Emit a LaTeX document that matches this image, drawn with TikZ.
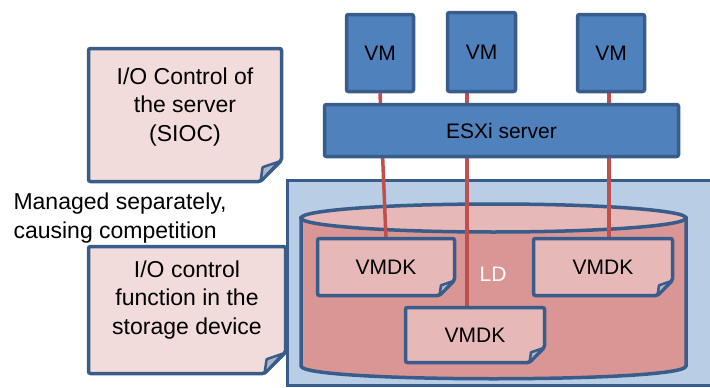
\documentclass[tikz,border=0pt]{standalone}
\usepackage{fontspec}
\setmainfont{Liberation Sans}
\usepackage{xcolor}
\usetikzlibrary{calc}
\definecolor{edgeblue}  {RGB}{56,93,138}
\definecolor{vmblue}    {RGB}{79,129,189}
\definecolor{notepink}  {RGB}{242,220,219}
\definecolor{storeblue} {RGB}{185,205,229}
\definecolor{ldbody}    {RGB}{217,150,149}
\definecolor{ldtop}     {RGB}{230,185,184}
\definecolor{diskpink}  {RGB}{230,184,183}
\definecolor{linkred}   {RGB}{192,80,77}
\definecolor{foldgray}  {RGB}{172,180,198}
\pgfdeclarelayer{back}
\pgfdeclarelayer{wires}
\pgfdeclarelayer{paper}
\pgfsetlayers{back,wires,paper,main}
\tikzset{
  bigtext/.style={font=\fontsize{23}{28.5}\selectfont, align=center},
  vmbox/.style  ={draw=edgeblue, line width=3.5pt, fill=vmblue,
                  rounded corners=2pt, inner sep=0pt,
                  font=\fontsize{21}{25}\selectfont},
  sheet/.style  ={minimum width=#1, inner sep=0pt, outer sep=0pt},
  diskbox/.style={sheet=#1, minimum height=55pt,
                  font=\fontsize{21}{25}\selectfont},
  link/.style   ={linkred, line width=3.5pt},
}
% outline of a sheet with a turned-down corner
\newcommand{\dogear}[3]{%
  \begin{pgfonlayer}{paper}
  \draw[edgeblue, line width=3.5pt, fill=#2, rounded corners=2pt]
    (#1.north west) -- (#1.north east) -- ([yshift=#3]#1.south east)
    -- ([xshift=-#3]#1.south east) -- (#1.south west) -- cycle;
  \draw[edgeblue, line width=2.5pt, fill=foldgray, line join=round]
    ([xshift=-#3]#1.south east) -- ([shift={(-0.9*#3,0.68*#3)}]#1.south east)
    -- ([shift={(-0.12*#3,0.95*#3)}]#1.south east) -- cycle;
  \end{pgfonlayer}}

\begin{document}
\begin{tikzpicture}[x=1pt, y=-1pt]
  \useasboundingbox (0,0) rectangle (710,388);

  % storage device and logical disk
  \begin{pgfonlayer}{back}
    \draw[edgeblue, line width=3pt, fill=storeblue] (287,180) rectangle (716,385);
    \draw[edgeblue, line width=3.5pt, fill=ldbody]
      (301,218) -- (301,366) .. controls (301,383) and (686,383) .. (686,366)
      -- (686,218) -- cycle;
    \draw[edgeblue, line width=3.5pt, fill=ldtop]
      (493.5,218) ellipse [x radius=192.5pt, y radius=14pt];
  \end{pgfonlayer}
  \node[font=\fontsize{21}{25}\selectfont, text=white] (ld) at (493,274) {LD};

  % server side
  \node[vmbox, minimum width=67pt, minimum height=77pt] (vm1) at (380,53) {VM};
  \node[vmbox, minimum width=68pt, minimum height=79pt] (vm2) at (481.5,52) {VM};
  \node[vmbox, minimum width=67pt, minimum height=77pt] (vm3) at (611,53) {VM};
  \node[vmbox, minimum width=354pt, minimum height=52pt] (esxi) at (501.5,130.5)
       {ESXi server};

  % virtual disks
  \node[diskbox=137pt, minimum height=57pt] (vmdk1) at (386,267) {VMDK};
  \node[diskbox=139pt, minimum height=57pt] (vmdk2) at (603,267) {VMDK};
  \node[diskbox=139pt] (vmdk3) at (475,335) {VMDK};
  \dogear{vmdk1}{diskpink}{15pt}
  \dogear{vmdk2}{diskpink}{15pt}
  \dogear{vmdk3}{diskpink}{15pt}

  \begin{pgfonlayer}{wires}
    \draw[link] (vm1.south) -- (vmdk1.north);
    \draw[link] ([xshift=-14.5pt]vm2.south) -- ([xshift=-8pt]vmdk3.north);
    \draw[link] ([xshift=-2pt]vm3.south) -- ([xshift=6pt]vmdk2.north);
  \end{pgfonlayer}

  % the two control functions
  \node[sheet=193pt, minimum height=133pt] (sioc) at (185,115) {};
  \dogear{sioc}{notepink}{21pt}
  \node[bigtext] (sioc-text) at ([yshift=8pt]sioc.center)
       {I/O Control of\\the server\\(SIOC)};

  \node[sheet=197pt, minimum height=127pt] (sdev) at (187,310) {};
  \dogear{sdev}{notepink}{21pt}
  \node[bigtext] (sdev-text) at ([yshift=10pt]sdev.center)
       {I/O control\\function in the\\storage device};

  \node[bigtext, align=left, anchor=west] (managed) at (10,218)
       {Managed separately,\\causing competition};
\end{tikzpicture}
\end{document}
